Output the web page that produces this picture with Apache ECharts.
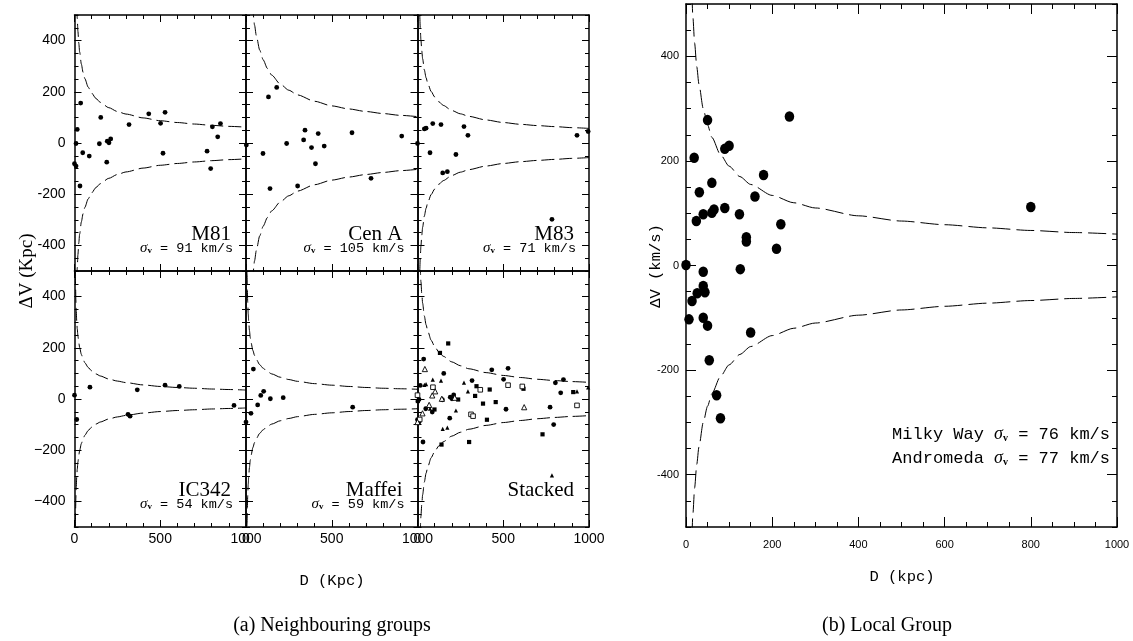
<!DOCTYPE html>
<html><head><meta charset="utf-8">
<script src="https://cdn.jsdelivr.net/npm/echarts@6/dist/echarts.min.js"></script>
<style>html,body{margin:0;padding:0;background:#fff}#c{width:1133px;height:641px}</style>
</head><body><div id="c"></div>
<script>
// ---------------- data ----------------
const groupNames = ['M81', 'Cen A', 'M83', 'IC342', 'Maffei', 'Stacked'];
const groupSigma = [91, 105, 71, 54, 59];

const m81D = [36, 16, 9, 0, 9, 48, 86, 32, 153, 145, 188, 191, 201, 211, 318, 433, 502, 528, 516, 804, 851, 835, 773, 794];
const m81V = [156, 53, -2, -81, -90, -38, -51, -168, 100, -3, -75, 7, 1, 16, 72, 114, 77, 120, -40, 63, 76, 24, -32, -100];

const cenAD = [2, 131, 179, 99, 140, 237, 301, 344, 336, 382, 421, 405, 456, 618, 729, 908];
const cenAV = [-8, 180, 217, -41, -178, -2, -168, 50, 12, -18, 37, -81, -12, 40, -138, 27];

const m83D = [0, 40, 50, 89, 73, 137, 147, 174, 224, 271, 294, 784, 930, 995];
const m83V = [-2, 55, 58, 76, -38, 72, -117, -112, -45, 64, 30, -298, 30, 45];

const ic342D = [0, 13, 90, 366, 312, 324, 528, 611, 930];
const ic342V = [15, -80, 46, 36, -60, -67, 54, 49, -25];

const maffeiD = [0, 43, 29, 68, 86, 103, 142, 217, 622];
const maffeiV = [-90, 117, -56, -23, 14, 30, 1, 5, -32];

const localD = [0, 50, 240, 19, 90, 100, 60, 180, 31, 160, 40, 60, 65, 90, 124, 24, 220, 140, 140, 210, 126, 40, 40, 44, 26, 14, 7, 40, 50, 150, 54, 71, 80, 800];
const localV = [1, 278, 285, 206, 223, 229, 158, 173, 140, 132, 98, 101, 107, 110, 98, 85, 79, 54, 46, 32, -7, -12, -39, -51, -53, -68, -103, -100, -115, -128, -181, -248, -292, 112];

// dashed envelope curves (magnitude of the +/- branches)
const curveD       = [2, 4, 6, 8, 10, 13, 16, 20, 25, 30, 40, 50, 60, 80, 100, 125, 150, 200, 250, 300, 400, 500, 600, 700, 800, 900, 1000];
const curveM81     = [1379, 975, 796, 689, 617, 541, 488, 436, 390, 356, 308, 276, 252, 218, 195, 174, 159, 138, 123, 113, 98, 87, 80, 74, 69, 65, 62];
const curveCenA    = [2298, 1625, 1327, 1149, 1028, 902, 813, 727, 650, 593, 514, 460, 420, 363, 325, 291, 265, 230, 206, 188, 163, 145, 133, 123, 115, 108, 103];
const curveM83     = [1273, 900, 735, 636, 569, 499, 450, 402, 360, 329, 285, 255, 232, 201, 180, 161, 147, 127, 114, 104, 90, 80, 73, 68, 64, 60, 57];
const curveIC342   = [778, 550, 449, 389, 348, 305, 275, 246, 220, 201, 174, 156, 142, 123, 110, 98, 90, 78, 70, 64, 55, 49, 45, 42, 39, 37, 35];
const curveMaffei  = [849, 600, 490, 424, 379, 333, 300, 268, 240, 219, 190, 170, 155, 134, 120, 107, 98, 85, 76, 69, 60, 54, 49, 45, 42, 40, 38];
const curveStacked = [1450, 1025, 837, 725, 648, 569, 513, 458, 410, 374, 324, 290, 265, 229, 205, 183, 167, 145, 130, 118, 103, 92, 84, 77, 72, 68, 65];
const curveLocal   = [1344, 950, 776, 672, 601, 527, 475, 425, 380, 347, 300, 269, 245, 212, 190, 170, 155, 134, 120, 110, 95, 85, 78, 72, 67, 63, 60];

const yTickLabels = [-400, -200, 0, 200, 400];
const localSigmaMW = 76;
const localSigmaM31 = 77;

// ---------------- layout ----------------
const L0 = 74.5, PW = 171.5, T0 = 15, PH = 256;
const RL = { left: 686, top: 4, width: 431, height: 523 };

const panels = [
  { D: m81D, V: m81V, curve: curveM81 },
  { D: cenAD, V: cenAV, curve: curveCenA },
  { D: m83D, V: m83V, curve: curveM83 },
  { D: ic342D, V: ic342V, curve: curveIC342 },
  { D: maffeiD, V: maffeiV, curve: curveMaffei },
  { stacked: true, curve: curveStacked }
];

const grid = [], xAxis = [], yAxis = [], series = [], graphic = [];
const black = '#000';

function addMain(g, rect, o) {
  grid[g] = Object.assign({ containLabel: false }, rect);
  const common = {
    gridIndex: g, type: 'value', splitLine: { show: false }, minorSplitLine: { show: false },
    axisLine: { show: true, onZero: false, lineStyle: { color: black, width: 1.5 } }
  };
  const xb = Object.assign({}, common, {
    position: 'bottom', min: 0, max: 1000, interval: o.xInt,
    axisTick: { show: true, inside: true, length: o.majorLen, lineStyle: { color: black, width: 1 } },
    minorTick: { show: true, splitNumber: o.xMinor, length: o.minorLen, lineStyle: { color: black, width: 1 } },
    axisLabel: { show: o.xLabels, color: black, fontFamily: 'Liberation Sans', fontSize: o.labelSize, margin: o.xMargin,
      formatter: v => String(v) }
  });
  const xt = Object.assign({}, xb, { position: 'top', axisLabel: { show: false } });
  const yCommon = Object.assign({}, common, {
    min: -500, max: 500, interval: 50,
    axisTick: { show: true, inside: true, length: o.minorLen, lineStyle: { color: black, width: 1 } }
  });
  const yl = Object.assign({}, yCommon, {
    position: 'left',
    axisLabel: {
      show: o.yLabels, customValues: yTickLabels, color: black, fontFamily: 'Liberation Sans',
      fontSize: o.labelSize, margin: o.yMargin,
      formatter: v => o.uniMinus ? String(v).replace('-', '\u2212') : String(v)
    }
  });
  const yr = Object.assign({}, yCommon, { position: 'right', axisLabel: { show: false } });
  xAxis[2 * g] = xb; xAxis[2 * g + 1] = xt;
  yAxis[2 * g] = yl; yAxis[2 * g + 1] = yr;
}

function addOverlay(k, rect, o) {
  grid[k] = Object.assign({ containLabel: false }, rect);
  xAxis.push({ gridIndex: k, type: 'value', min: 0, max: 1000, show: false });
  const yo = {
    gridIndex: k, type: 'value', min: -500, max: 500, interval: 100,
    splitLine: { show: false }, axisLine: { show: false },
    axisLabel: { show: false },
    axisTick: { show: true, inside: true, length: o.majorLen, customValues: yTickLabels, lineStyle: { color: black, width: 1 } }
  };
  yAxis.push(Object.assign({ position: 'left' }, yo));
  yAxis.push(Object.assign({ position: 'right' }, yo));
}

function addCurves(g, curve, dash) {
  const up = curveD.map((d, i) => [d, curve[i]]);
  const lo = curveD.map((d, i) => [d, -curve[i]]);
  [up, lo].forEach(data => series.push({
    type: 'line', xAxisIndex: 2 * g, yAxisIndex: 2 * g, data, smooth: 0.25, smoothMonotone: 'x',
    showSymbol: false, silent: true, clip: true, z: 2,
    lineStyle: { color: black, width: 1, type: dash }
  }));
}

function pts(D, V) { return D.map((d, i) => [d, V[i]]); }

const leftOpts = row => ({ xInt: 500, xMinor: 5, majorLen: 7, minorLen: 4, labelSize: 14, xMargin: 5, yMargin: 9, xLabels: row === 1, yLabels: true, uniMinus: row === 1 });

// left 6 panels
panels.forEach((p, idx) => {
  const row = Math.floor(idx / 3), col = idx % 3;
  const rect = { left: L0 + col * PW, top: T0 + row * PH, width: PW, height: PH };
  const o = leftOpts(row);
  o.yLabels = col === 0;
  addMain(idx, rect, o);
  addCurves(idx, p.curve, [13, 5]);
  if (!p.stacked) {
    series.push({ type: 'scatter', xAxisIndex: 2 * idx, yAxisIndex: 2 * idx, data: pts(p.D, p.V),
      symbol: 'circle', symbolSize: 4.8, itemStyle: { color: black, opacity: 1 }, z: 3 });
  } else {
    const styles = [
      { symbol: 'circle', symbolSize: 4.8, itemStyle: { color: black, opacity: 1 } },
      { symbol: 'rect', symbolSize: 4.2, itemStyle: { color: black, opacity: 1 } },
      { symbol: 'triangle', symbolSize: 4.2, itemStyle: { color: black, opacity: 1 } },
      { symbol: 'rect', symbolSize: 4.6, itemStyle: { color: '#fff', borderColor: black, borderWidth: 0.9, opacity: 1 } },
      { symbol: 'triangle', symbolSize: 5.2, itemStyle: { color: '#fff', borderColor: black, borderWidth: 0.9, opacity: 1 } }
    ];
    panels.slice(0, 5).forEach((q, j) => {
      series.push(Object.assign({ type: 'scatter', xAxisIndex: 2 * idx, yAxisIndex: 2 * idx, data: pts(q.D, q.V), z: 3 }, styles[j]));
    });
  }
  // panel name and sigma
  const right = rect.left + rect.width;
  graphic.push({ type: 'text', x: right - 15, y: rect.top + 219, style: {
    text: groupNames[idx], align: 'right', verticalAlign: 'middle',
    fontFamily: 'Liberation Serif', fontSize: 21, fill: black } });
  if (!p.stacked) {
    graphic.push({ type: 'text', x: right - 13, y: rect.top + 233, style: {
      text: '{s|\u03c3}{v|v}{t| = ' + groupSigma[idx] + ' km/s}', align: 'right', verticalAlign: 'middle',
      rich: {
        s: { fontFamily: 'Liberation Serif', fontStyle: 'italic', fontSize: 15, fill: black },
        v: { fontFamily: 'Liberation Serif', fontWeight: 'bold', fontSize: 9, fill: black, verticalAlign: 'bottom', lineHeight: 12 },
        t: { fontFamily: 'Liberation Mono', fontSize: 13.5, fill: black }
      } } });
  }
});

// right panel (Local Group)
addMain(6, RL, { xInt: 200, xMinor: 4, majorLen: 10, minorLen: 5, labelSize: 11, xMargin: 12, yMargin: 7, xLabels: true, yLabels: true, uniMinus: false });
addCurves(6, curveLocal, [18, 6]);
series.push({ type: 'scatter', xAxisIndex: 12, yAxisIndex: 12, data: pts(localD, localV),
  symbol: 'circle', symbolSize: [9.5, 10.5], itemStyle: { color: black, opacity: 1 }, z: 3 });

// overlay grids for long major y-ticks
for (let i = 0; i < 6; i++) {
  const row = Math.floor(i / 3), col = i % 3;
  addOverlay(7 + i, { left: L0 + col * PW, top: T0 + row * PH, width: PW, height: PH }, { majorLen: 7 });
}
addOverlay(13, RL, { majorLen: 10 });

// texts
const sigRich = fs => ({
  s: { fontFamily: 'Liberation Serif', fontStyle: 'italic', fontSize: fs + 1, fill: black },
  v: { fontFamily: 'Liberation Serif', fontWeight: 'bold', fontSize: 10, fill: black, verticalAlign: 'bottom', lineHeight: 14 },
  t: { fontFamily: 'Liberation Mono', fontSize: fs, fill: black }
});
graphic.push({ type: 'text', x: 1110, y: 434, style: { text: '{t|Milky Way }{s|\u03c3}{v|v}{t| = ' + localSigmaMW + ' km/s}', align: 'right', verticalAlign: 'middle', rich: sigRich(17) } });
graphic.push({ type: 'text', x: 1110, y: 458, style: { text: '{t|Andromeda }{s|\u03c3}{v|v}{t| = ' + localSigmaM31 + ' km/s}', align: 'right', verticalAlign: 'middle', rich: sigRich(17) } });

graphic.push({ type: 'text', x: 27, y: 271, rotation: Math.PI / 2, style: { text: '\u0394V (Kpc)', align: 'center', verticalAlign: 'middle', fontFamily: 'Liberation Serif', fontSize: 19, fill: black } });
graphic.push({ type: 'text', x: 332, y: 581, style: { text: 'D (Kpc)', align: 'center', verticalAlign: 'middle', fontFamily: 'Liberation Mono', fontSize: 15.5, fill: black } });
graphic.push({ type: 'text', x: 656, y: 266, rotation: Math.PI / 2, style: { text: '\u0394V (km/s)', align: 'center', verticalAlign: 'middle', fontFamily: 'Liberation Mono', fontSize: 15.5, fill: black } });
graphic.push({ type: 'text', x: 902, y: 577, style: { text: 'D (kpc)', align: 'center', verticalAlign: 'middle', fontFamily: 'Liberation Mono', fontSize: 15.5, fill: black } });
graphic.push({ type: 'text', x: 332, y: 626, style: { text: '(a) Neighbouring groups', align: 'center', verticalAlign: 'middle', fontFamily: 'Liberation Serif', fontSize: 20, fill: black } });
graphic.push({ type: 'text', x: 887, y: 626, style: { text: '(b) Local Group', align: 'center', verticalAlign: 'middle', fontFamily: 'Liberation Serif', fontSize: 20, fill: black } });

const chart = echarts.init(document.getElementById('c'), null, { renderer: 'canvas' });
chart.setOption({ animation: false, backgroundColor: '#fff', grid, xAxis, yAxis, series, graphic });
</script></body></html>
